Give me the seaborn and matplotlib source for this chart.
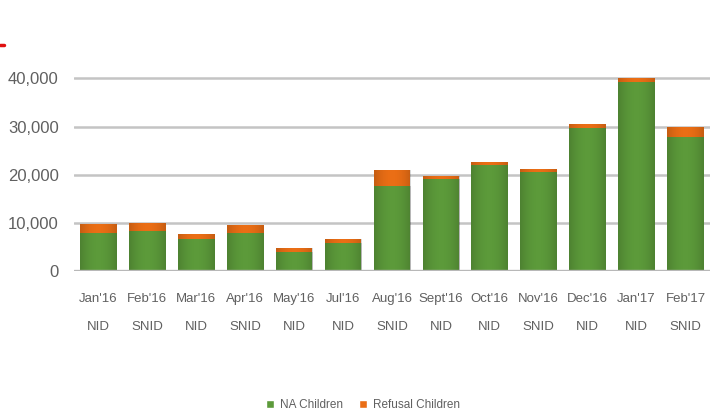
import matplotlib
matplotlib.use("Agg")
import matplotlib.pyplot as plt
import seaborn as sns
import numpy as np
import pandas as pd
from matplotlib.lines import Line2D
from matplotlib.patches import Patch
from matplotlib.colors import LinearSegmentedColormap

months = ["Jan'16", "Feb'16", "Mar'16", "Apr'16", "May'16", "Jul'16", "Aug'16",
          "Sept'16", "Oct'16", "Nov'16", "Dec'16", "Jan'17", "Feb'17"]
rounds = ["NID", "SNID", "NID", "SNID", "NID", "NID", "SNID",
          "NID", "NID", "SNID", "NID", "NID", "SNID"]
na_children = [7900, 8250, 6600, 7900, 3900, 5800, 17700,
               19100, 21900, 20450, 29700, 39200, 27900]
refusal_children = [1800, 1750, 1000, 1600, 800, 850, 3200,
                    600, 700, 750, 900, 900, 2000]
y_ticks = [0, 10000, 20000, 30000, 40000]

GREEN = "#5c9a3a"
ORANGE = "#ea6e15"
GRID = "#c4c4c4"
TEXT = "#606060"

sns.set_theme(style="white")
plt.rcParams["font.family"] = ["Liberation Sans", "DejaVu Sans"]

labels = [f"{m}\n{r}" for m, r in zip(months, rounds)]
df = pd.DataFrame({
    "label": labels,
    "na": na_children,
    "total": np.array(na_children) + np.array(refusal_children),
})

fig = plt.figure(figsize=(7.17, 4.16), dpi=100)
ax = fig.add_axes([0.1032, 0.349, 0.887, 0.474])

# stacked bars: total (refusal on top) drawn first, NA drawn over it
sns.barplot(data=df, x="label", y="total", color=ORANGE, saturation=1,
            width=0.75, linewidth=0, ax=ax, zorder=3)
sns.barplot(data=df, x="label", y="na", color=GREEN, saturation=1,
            width=0.75, linewidth=0, ax=ax, zorder=4)

# soft horizontal shading across each bar
shade = LinearSegmentedColormap.from_list("shade", [(0, 0, 0, 0), (0, 0, 0, 0.16)])
grad = np.abs(np.linspace(-1, 1, 64))[None, :] ** 2
for p in list(ax.patches):
    x0, y0 = p.get_x(), p.get_y()
    w, h = p.get_width(), p.get_height()
    im = ax.imshow(grad, cmap=shade, vmin=0, vmax=1,
                   extent=[x0, x0 + w, y0, y0 + h], aspect="auto",
                   zorder=p.get_zorder() + 0.5)
    im.set_clip_path(p)

ax.set_xlim(-0.5, len(labels) - 0.5)
ax.set_ylim(0, 41000)
ax.set_yticks(y_ticks)
ax.set_yticklabels([f"{v:,}" for v in y_ticks])
for v in y_ticks:
    ax.axhline(v, color=GRID, lw=1.8, zorder=1)
ax.axhline(0, color="#b8b8b8", lw=2.4, zorder=5)

for s in ax.spines.values():
    s.set_visible(False)
ax.set_xlabel("")
ax.set_ylabel("")
ax.tick_params(axis="y", length=0, pad=11, labelsize=12, labelcolor=TEXT)
ax.tick_params(axis="x", length=0, pad=16, labelsize=9.5, labelcolor=TEXT)
for t in ax.get_xticklabels():
    t.set_linespacing(2.8)

handles = [Patch(facecolor=GREEN, label="NA Children"),
           Patch(facecolor=ORANGE, label="Refusal Children")]
fig.legend(handles=handles, loc="center", bbox_to_anchor=(0.506, 0.026),
           ncol=2, frameon=False, fontsize=8.5, labelcolor=TEXT,
           handlelength=0.65, handleheight=0.65, handletextpad=0.5, columnspacing=1.4)

fig.add_artist(Line2D([0, 0.006], [0.893, 0.893], color="#e01010", lw=2.5,
                      transform=fig.transFigure))

fig.savefig("out.png", dpi=100, facecolor="white")
